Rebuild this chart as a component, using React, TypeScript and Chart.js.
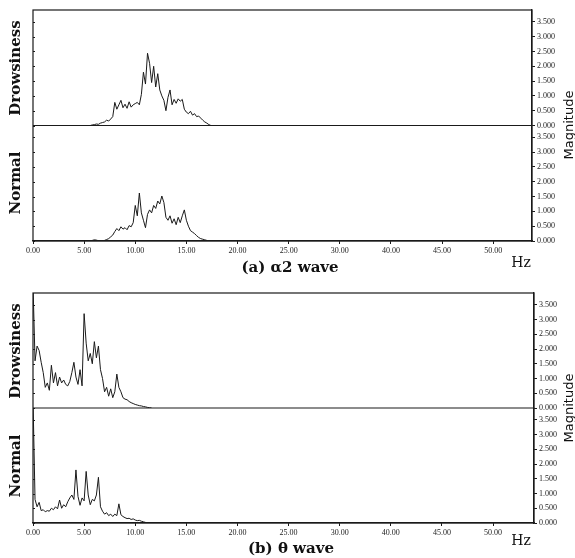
import React, { useEffect, useRef } from "react";
import { Chart, registerables } from "chart.js";

Chart.register(...registerables);

// Frequency grid step (Hz) of the spectra
const STEP = 0.2;

// x axis: tick positions (Hz) and the labels printed under them
const X_TICK_HZ = [0, 5, 10, 15, 20, 25, 30, 35, 40, 45];
const X_LABELS = ["0.00", "5.00", "10.00", "15.00", "20.00", "25.00", "30.00", "40.00", "45.00", "50.00"];
// magnitude ticks (each panel)
const MAG_TICKS = [0, 0.5, 1, 1.5, 2, 2.5, 3, 3.5];

// (a) alpha2 wave
const A_DROWSY_START = 5.6;
const A_DROWSY = [
  0.0, 0.02, 0.03, 0.05, 0.04, 0.08, 0.1, 0.12, 0.18, 0.15, 0.22, 0.3,
  0.78, 0.55, 0.7, 0.85, 0.6, 0.72, 0.58, 0.8, 0.62, 0.7, 0.74, 0.78,
  0.7, 1.05, 1.8, 1.4, 2.44, 2.1, 1.45, 2.0, 1.3, 1.75, 1.2, 1.0,
  0.85, 0.5, 0.95, 1.2, 0.7, 0.88, 0.75, 0.9, 0.82, 0.88, 0.55, 0.45,
  0.4, 0.48, 0.35, 0.4, 0.3, 0.32, 0.25, 0.18, 0.12, 0.08, 0.03, 0.0,
];
const A_NORMAL_START = 5.6;
const A_NORMAL = [
  0.0, 0.02, 0.04, 0.03, 0.01, 0.0, 0.01, 0.02, 0.05, 0.08, 0.14, 0.2,
  0.32, 0.42, 0.35, 0.48, 0.4, 0.45, 0.38, 0.52, 0.48, 0.62, 1.2, 0.85,
  1.62, 0.95, 0.7, 0.45, 0.9, 1.05, 0.95, 1.2, 1.1, 1.35, 1.25, 1.52,
  1.3, 0.8, 0.7, 0.85, 0.6, 0.75, 0.55, 0.8, 0.62, 0.85, 1.05, 0.7,
  0.5, 0.35, 0.3, 0.25, 0.18, 0.12, 0.08, 0.06, 0.04, 0.02, 0.0,
];

// (b) theta wave
const B_DROWSY_START = 0;
const B_DROWSY = [
  4.2, 1.6, 2.1, 1.95, 1.55, 1.2, 0.7, 0.85, 0.6, 1.45, 0.85, 1.2,
  0.75, 1.05, 0.85, 0.95, 0.8, 0.75, 0.9, 1.2, 1.55, 1.05, 0.8, 1.3,
  0.75, 3.2, 2.2, 1.6, 1.85, 1.5, 2.25, 1.7, 2.1, 1.3, 1.0, 0.55,
  0.7, 0.4, 0.65, 0.35, 0.55, 1.15, 0.7, 0.55, 0.35, 0.3, 0.28, 0.22,
  0.18, 0.15, 0.12, 0.1, 0.08, 0.07, 0.05, 0.04, 0.02, 0.01, 0.0,
];
const B_NORMAL_START = 0;
const B_NORMAL = [
  4.2, 0.8, 0.55, 0.7, 0.42, 0.45, 0.38, 0.42, 0.4, 0.5, 0.45, 0.55,
  0.48, 0.78, 0.5, 0.62, 0.55, 0.72, 0.85, 0.95, 0.8, 1.8, 0.9, 0.6,
  0.85, 0.75, 1.75, 0.95, 0.62, 0.8, 0.75, 0.95, 1.55, 0.55, 0.4, 0.3,
  0.35, 0.25, 0.3, 0.22, 0.3, 0.25, 0.65, 0.28, 0.22, 0.18, 0.15, 0.16,
  0.12, 0.14, 0.1, 0.08, 0.09, 0.06, 0.04, 0.02, 0.0,
];

const SERIF = '"DejaVu Serif", "Liberation Serif", serif';
const TICK_FONT = { family: '"Liberation Serif", serif', size: 8 };
const INK = "#1a1a1a";

function toPoints(start: number, values: number[]) {
  return values.map((v, i) => ({ x: Math.round((start + i * STEP) * 10) / 10, y: v }));
}

const framePlugin = {
  id: "frame",
  afterDraw(chart: any) {
    const { ctx, chartArea } = chart;
    const yD = chart.scales.yD;
    const yN = chart.scales.yN;
    ctx.save();
    ctx.strokeStyle = INK;
    ctx.lineWidth = 1.2;
    ctx.strokeRect(chartArea.left, chartArea.top, chartArea.right - chartArea.left, chartArea.bottom - chartArea.top);
    ctx.beginPath();
    ctx.moveTo(chartArea.left, yD.bottom);
    ctx.lineTo(chartArea.right, yD.bottom);
    ctx.stroke();
    // small inner tick marks on the left frame, at the magnitude ticks
    ctx.lineWidth = 1;
    ctx.beginPath();
    for (const s of [yD, yN]) {
      for (const v of MAG_TICKS) {
        const y = Math.round(s.getPixelForValue(v)) + 0.5;
        ctx.moveTo(chartArea.left, y);
        ctx.lineTo(chartArea.left + 2, y);
      }
    }
    ctx.stroke();
    ctx.restore();
  },
};

function magAxis(rightW: number) {
  return {
    type: "linear",
    position: "right",
    stack: "mag",
    stackWeight: 1,
    min: 0,
    max: 3.9,
    afterFit(s: any) {
      s.width = rightW;
    },
    afterBuildTicks(s: any) {
      s.ticks = MAG_TICKS.map((v) => ({ value: v }));
    },
    ticks: {
      callback: (v: number) => Number(v).toFixed(3),
      font: TICK_FONT,
      color: "#222",
      padding: 2,
      autoSkip: false,
    },
    grid: { display: true, drawOnChartArea: false, drawTicks: true, tickLength: 3, color: INK },
    border: { display: true, color: INK, width: 1.2 },
  };
}

function makeConfig(drowsy: any[], normal: any[], top: number, xAxisH: number, rightW: number, xMax: number) {
  return {
    type: "line",
    data: {
      datasets: [
        { data: drowsy, yAxisID: "yD", xAxisID: "x", borderColor: INK, borderWidth: 1, pointRadius: 0, tension: 0, fill: false },
        { data: normal, yAxisID: "yN", xAxisID: "x", borderColor: INK, borderWidth: 1, pointRadius: 0, tension: 0, fill: false },
      ],
    },
    options: {
      animation: false,
      responsive: false,
      maintainAspectRatio: false,
      layout: { padding: { left: 33, top, right: 0, bottom: 0 } },
      plugins: { legend: { display: false }, tooltip: { enabled: false }, title: { display: false } },
      scales: {
        x: {
          type: "linear",
          min: 0,
          max: xMax,
          afterFit(s: any) {
            s.height = xAxisH;
          },
          afterBuildTicks(s: any) {
            s.ticks = X_TICK_HZ.map((v) => ({ value: v }));
          },
          ticks: {
            callback: (_v: number, i: number) => X_LABELS[i],
            font: TICK_FONT,
            color: "#222",
            maxRotation: 0,
            autoSkip: false,
            padding: 2,
          },
          grid: { display: true, drawOnChartArea: false, drawTicks: true, tickLength: 3, color: INK },
          border: { display: true, color: INK, width: 1.2 },
        },
        yD: magAxis(rightW),
        yN: magAxis(rightW),
      },
    },
    plugins: [framePlugin],
  };
}

function Panel(props: { drowsy: any[]; normal: any[]; top: number; xAxisH: number; rightW: number; xMax: number }) {
  const ref = useRef<HTMLCanvasElement | null>(null);
  useEffect(() => {
    if (!ref.current) return;
    const chart = new Chart(ref.current, makeConfig(props.drowsy, props.normal, props.top, props.xAxisH, props.rightW, props.xMax) as any);
    return () => chart.destroy();
  }, []);
  return <canvas ref={ref} width={575} height={279} style={{ display: "block", width: 575, height: 279 }} />;
}

const rot: React.CSSProperties = {
  position: "absolute",
  transform: "translate(-50%, -50%) rotate(-90deg)",
  whiteSpace: "nowrap",
  color: "#111",
};

function Label(props: { x: number; y: number; text: string; style: React.CSSProperties; rotate?: boolean }) {
  const base: React.CSSProperties = props.rotate
    ? rot
    : { position: "absolute", transform: "translate(-50%, -50%)", whiteSpace: "nowrap", color: "#111" };
  return <div style={{ ...base, left: props.x, top: props.y, lineHeight: 1, ...props.style }}>{props.text}</div>;
}

const sideStyle: React.CSSProperties = { fontFamily: SERIF, fontWeight: "bold", fontSize: 15 };
const magStyle: React.CSSProperties = { fontFamily: '"DejaVu Sans", sans-serif', fontSize: 13 };
const hzStyle: React.CSSProperties = { fontFamily: SERIF, fontSize: 14 };
const capStyle: React.CSSProperties = { fontFamily: SERIF, fontWeight: "bold", fontSize: 15 };

export default function App() {
  return (
    <div style={{ position: "absolute", left: 0, top: 0, width: 575, height: 558, background: "#fff", overflow: "hidden" }}>
      <div style={{ position: "absolute", left: 0, top: 0 }}>
        <Panel drowsy={toPoints(A_DROWSY_START, A_DROWSY)} normal={toPoints(A_NORMAL_START, A_NORMAL)} top={10} xAxisH={38} rightW={43} xMax={48.8} />
      </div>
      <div style={{ position: "absolute", left: 0, top: 279 }}>
        <Panel drowsy={toPoints(B_DROWSY_START, B_DROWSY)} normal={toPoints(B_NORMAL_START, B_NORMAL)} top={14} xAxisH={35} rightW={41} xMax={49.0} />
      </div>
      <Label x={15} y={68} text="Drowsiness" style={sideStyle} rotate />
      <Label x={15} y={183} text="Normal" style={sideStyle} rotate />
      <Label x={568} y={125} text="Magnitude" style={magStyle} rotate />
      <Label x={521} y={262} text="Hz" style={hzStyle} />
      <Label x={290} y={267} text="(a) α2 wave" style={capStyle} />
      <Label x={15} y={351} text="Drowsiness" style={sideStyle} rotate />
      <Label x={15} y={466} text="Normal" style={sideStyle} rotate />
      <Label x={568} y={408} text="Magnitude" style={magStyle} rotate />
      <Label x={521} y={540} text="Hz" style={hzStyle} />
      <Label x={291} y={548} text="(b) θ wave" style={capStyle} />
    </div>
  );
}
